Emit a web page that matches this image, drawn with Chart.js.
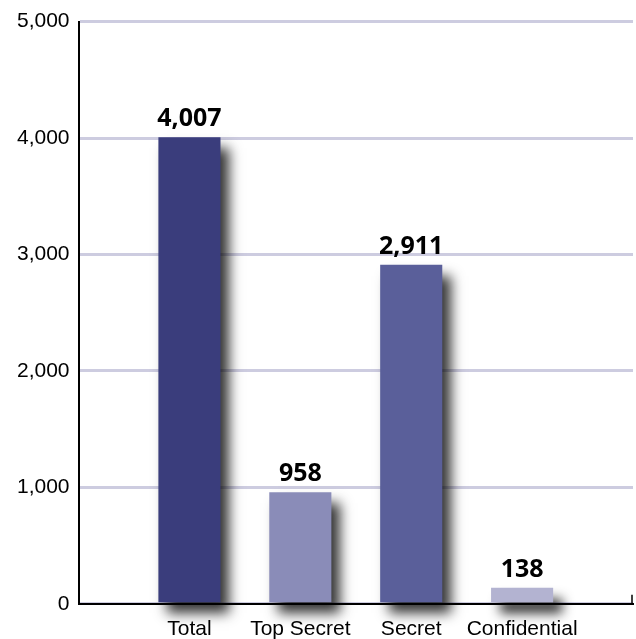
<!DOCTYPE html>
<html>
<head>
<meta charset="utf-8">
<script src="https://cdn.jsdelivr.net/npm/chart.js@4"></script>
<style>
  html, body { margin: 0; padding: 0; background: #fff; overflow: hidden; }
  #wrap { width: 646px; height: 655px; }
</style>
</head>
<body>
<div id="wrap"><canvas id="chart"></canvas></div>
<script>
// 数据
const categories = ['Total', 'Top Secret', 'Secret', 'Confidential'];
const counts = [4007, 958, 2911, 138];
const barColors = ['#3a3d7c', '#8a8cb8', '#5a5f9a', '#b3b3d1'];
const yTicks = [0, 1000, 2000, 3000, 4000, 5000];

// 两端各留一个空位，使柱子落在 1..4 的位置
const labels = [''].concat(categories, ['']);
const values = [null].concat(counts, [null]);
const colors = ['#000'].concat(barColors, ['#000']);

// 柱子阴影
const shadowPlugin = {
  id: 'barShadow',
  beforeDatasetsDraw(chart) {
    const ctx = chart.ctx;
    ctx.save();
    ctx.shadowColor = 'rgba(0,0,0,0.8)';
    ctx.shadowBlur = 12;
    ctx.shadowOffsetX = 9;
    ctx.shadowOffsetY = 11;
  },
  afterDatasetsDraw(chart) {
    chart.ctx.restore();
  }
};

// 柱顶数值 + 横轴右端小刻度
const valueLabelPlugin = {
  id: 'valueLabels',
  afterDatasetsDraw(chart) {
    const ctx = chart.ctx;
    const meta = chart.getDatasetMeta(0);
    ctx.save();
    ctx.font = 'bold 25px "Open Sans"';
    ctx.fillStyle = '#000';
    ctx.textAlign = 'center';
    ctx.textBaseline = 'alphabetic';
    meta.data.forEach((bar, i) => {
      const v = values[i];
      if (v == null) return;
      ctx.fillText(v.toLocaleString('en-US'), bar.x, bar.y - 11);
    });
    const area = chart.chartArea;
    ctx.strokeStyle = '#000';
    ctx.lineWidth = 1.5;
    ctx.beginPath();
    ctx.moveTo(area.right - 1, area.bottom - 9);
    ctx.lineTo(area.right - 1, area.bottom);
    ctx.stroke();
    ctx.restore();
  }
};

new Chart(document.getElementById('chart'), {
  type: 'bar',
  data: {
    labels: labels,
    datasets: [{
      data: values,
      backgroundColor: colors,
      borderWidth: 0,
      barPercentage: 0.56,
      categoryPercentage: 1,
      clip: false
    }]
  },
  options: {
    responsive: true,
    maintainAspectRatio: false,
    animation: false,
    layout: { padding: { left: 8, right: 0, top: 7, bottom: 0 } },
    plugins: {
      legend: { display: false },
      tooltip: { enabled: false }
    },
    scales: {
      x: {
        offset: false,
        grid: { display: false, drawTicks: false },
        border: { display: true, color: '#000', width: 2 },
        ticks: {
          color: '#000',
          font: { family: '"Liberation Sans", Arial', size: 21 },
          padding: 13,
          maxRotation: 0,
          autoSkip: false
        }
      },
      y: {
        min: 0,
        max: 5000,
        afterBuildTicks(axis) {
          axis.ticks = yTicks.map(v => ({ value: v }));
        },
        grid: { color: '#cdcce0', lineWidth: 3, drawTicks: false },
        border: { display: true, color: '#000', width: 2 },
        ticks: {
          color: '#000',
          font: { family: '"Liberation Sans", Arial', size: 21 },
          padding: 9,
          callback: v => v.toLocaleString('en-US')
        }
      }
    }
  },
  plugins: [shadowPlugin, valueLabelPlugin]
});
</script>
</body>
</html>
